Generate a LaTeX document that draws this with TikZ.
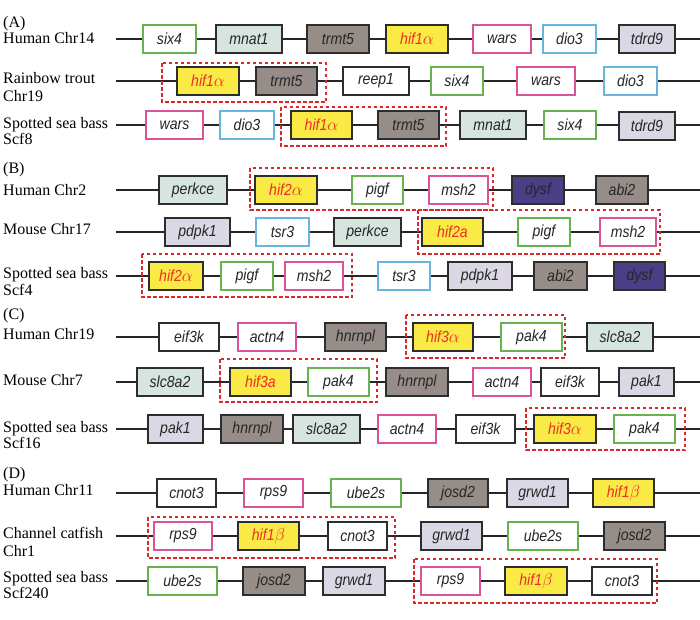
\documentclass[tikz,border=0pt]{standalone}
\usepackage{fontspec}
\setmainfont{Liberation Serif}
\newfontfamily\genefont[FakeStretch=0.88]{Liberation Sans}
\usepackage{tikz}

\definecolor{boxline}{RGB}{45,45,45}
\definecolor{mint}{RGB}{214,229,222}
\definecolor{taupe}{RGB}{150,141,136}
\definecolor{hifyellow}{RGB}{250,234,70}
\definecolor{hifred}{RGB}{238,45,40}
\definecolor{lilac}{RGB}{220,215,228}
\definecolor{indigo}{RGB}{76,62,134}
\definecolor{edgegreen}{RGB}{104,178,80}
\definecolor{edgepink}{RGB}{218,84,150}
\definecolor{edgeblue}{RGB}{104,182,222}
\definecolor{synred}{RGB}{220,40,40}

\tikzset{
  gene/.style={draw=boxline, line width=1.6pt, minimum height=28pt, inner sep=0pt,
    font=\genefont\itshape\fontsize{16}{16}\selectfont, text=black!85},
  plainbox/.style={gene, fill=white},
  mintbox/.style={gene, fill=mint},
  taupebox/.style={gene, fill=taupe},
  hifbox/.style={gene, fill=hifyellow, text=hifred},
  lilacbox/.style={gene, fill=lilac},
  indigobox/.style={gene, fill=indigo},
  greenedge/.style={gene, draw=edgegreen, line width=1.2pt, fill=white},
  pinkedge/.style={gene, draw=edgepink, line width=1.2pt, fill=white},
  blueedge/.style={gene, draw=edgeblue, line width=1.2pt, fill=white},
  chrline/.style={line width=1.2pt, black!85},
  synteny/.style={draw=synred, line width=1.2pt, dash pattern=on 3.5pt off 2.5pt},
  species/.style={anchor=base west, inner sep=0pt, font=\fontsize{16}{16}\selectfont}
}

\begin{document}
\begin{tikzpicture}[x=1pt,y=-1pt]
\useasboundingbox (0,0) rectangle (700,619);

% species / chromosome labels
\node[species] (labA) at (3,27) {(A)};
\node[species] (a1lab) at (3,43.5) {Human Chr14};
\node[species] (a2lab) at (3,83.5) {Rainbow trout};
\node[species] (a2labb) at (3,101) {Chr19};
\node[species] (a3lab) at (3,128) {Spotted sea bass};
\node[species] (a3labb) at (3,144) {Scf8};
\node[species] (labB) at (3,173) {(B)};
\node[species] (b1lab) at (3,195) {Human Chr2};
\node[species] (b2lab) at (3,234) {Mouse Chr17};
\node[species] (b3lab) at (3,278) {Spotted sea bass};
\node[species] (b3labb) at (3,295) {Scf4};
\node[species] (labC) at (3,319) {(C)};
\node[species] (c1lab) at (3,339) {Human Chr19};
\node[species] (c2lab) at (3,385) {Mouse Chr7};
\node[species] (c3lab) at (3,432) {Spotted sea bass};
\node[species] (c3labb) at (3,448) {Scf16};
\node[species] (labD) at (3,478) {(D)};
\node[species] (d1lab) at (3,495) {Human Chr11};
\node[species] (d2lab) at (3,538) {Channel catfish};
\node[species] (d2labb) at (3,556) {Chr1};
\node[species] (d3lab) at (3,582) {Spotted sea bass};
\node[species] (d3labb) at (3,598) {Scf240};

% chromosome lines
\foreach \row/\y in {a1/39,a2/81,a3/125,b1/190,b2/232,b3/276,c1/337,c2/382,c3/429,d1/493,d2/536,d3/581}{
  \coordinate (\row s) at (116,\y);
  \coordinate (\row e) at (700,\y);
  \draw[chrline] (\row s) -- (\row e);
}

% (A) hif1a
\node[greenedge, minimum width=53pt] (a1six) at (169.5,39) {six4};
\node[mintbox, minimum width=66pt] (a1mnat) at (249,39) {mnat1};
\node[taupebox, minimum width=62pt] (a1trmt) at (338,39) {trmt5};
\node[hifbox, minimum width=62pt] (a1hif) at (417,39) {hif1$\alpha$};
\node[pinkedge, minimum width=58pt] (a1wars) at (502,39) {wars};
\node[blueedge, minimum width=53pt] (a1dio) at (569.5,39) {dio3};
\node[lilacbox, minimum width=56pt] (a1tdrd) at (647,39) {tdrd9};

\draw[synteny] (162,63) rectangle (326,102);
\node[hifbox, minimum width=62pt] (a2hif) at (208,81) {hif1$\alpha$};
\node[taupebox, minimum width=61pt] (a2trmt) at (286.5,81) {trmt5};
\node[plainbox, minimum width=66pt] (a2reep) at (376,81) {reep1};
\node[greenedge, minimum width=52pt] (a2six) at (457,81) {six4};
\node[pinkedge, minimum width=58pt] (a2wars) at (546,81) {wars};
\node[blueedge, minimum width=53pt] (a2dio) at (630.5,81) {dio3};

\draw[synteny] (281,107) rectangle (446,146);
\node[pinkedge, minimum width=57pt] (a3wars) at (174.5,125) {wars};
\node[blueedge, minimum width=54pt] (a3dio) at (247,125) {dio3};
\node[hifbox, minimum width=61pt] (a3hif) at (321.5,125) {hif1$\alpha$};
\node[taupebox, minimum width=61pt] (a3trmt) at (408.5,125) {trmt5};
\node[mintbox, minimum width=66pt] (a3mnat) at (493,125) {mnat1};
\node[greenedge, minimum width=52pt] (a3six) at (570,125) {six4};
\node[lilacbox, minimum width=56pt] (a3tdrd) at (647,126) {tdrd9};

% (B) hif2a
\draw[synteny] (250,168) rectangle (493,210);
\node[mintbox, minimum width=68pt] (b1perk) at (193,190) {perkce};
\node[hifbox, minimum width=62pt] (b1hif) at (286,190) {hif2$\alpha$};
\node[greenedge, minimum width=51pt] (b1pigf) at (377.5,190) {pigf};
\node[pinkedge, minimum width=59pt] (b1msh) at (458.5,190) {msh2};
\node[indigobox, minimum width=52pt] (b1dysf) at (538,190) {dysf};
\node[taupebox, minimum width=52pt] (b1abi) at (622,190) {abi2};

\draw[synteny] (418,210) rectangle (660,254);
\node[lilacbox, minimum width=65pt] (b2pdpk) at (197.5,232) {pdpk1};
\node[blueedge, minimum width=53pt] (b2tsr) at (282.5,232) {tsr3};
\node[mintbox, minimum width=67pt] (b2perk) at (367.5,232) {perkce};
\node[hifbox, minimum width=61pt] (b2hif) at (452.5,232) {hif2a};
\node[greenedge, minimum width=52pt] (b2pigf) at (544,232) {pigf};
\node[pinkedge, minimum width=56pt] (b2msh) at (628,232) {msh2};

\draw[synteny] (142,254) rectangle (352,297);
\node[hifbox, minimum width=54pt] (b3hif) at (176,276) {hif2$\alpha$};
\node[greenedge, minimum width=52pt] (b3pigf) at (247,276) {pigf};
\node[pinkedge, minimum width=58pt] (b3msh) at (314,276) {msh2};
\node[blueedge, minimum width=52pt] (b3tsr) at (404,276) {tsr3};
\node[lilacbox, minimum width=64pt] (b3pdpk) at (480,276) {pdpk1};
\node[taupebox, minimum width=53pt] (b3abi) at (560.5,276) {abi2};
\node[indigobox, minimum width=51pt] (b3dysf) at (639.5,276) {dysf};

% (C) hif3a
\draw[synteny] (406,315) rectangle (565,358);
\node[plainbox, minimum width=60pt] (c1eif) at (189,337) {eif3k};
\node[pinkedge, minimum width=58pt] (c1actn) at (267,337) {actn4};
\node[taupebox, minimum width=61pt] (c1hnrn) at (355.5,337) {hnrnpl};
\node[hifbox, minimum width=60pt] (c1hif) at (443,337) {hif3$\alpha$};
\node[greenedge, minimum width=61pt] (c1pak) at (531.5,337) {pak4};
\node[mintbox, minimum width=66pt] (c1slc) at (620,337) {slc8a2};

\draw[synteny] (220,359) rectangle (377,402);
\node[mintbox, minimum width=66pt] (c2slc) at (170,382) {slc8a2};
\node[hifbox, minimum width=61pt] (c2hif) at (260.5,382) {hif3a};
\node[greenedge, minimum width=61pt] (c2pak) at (338.5,382) {pak4};
\node[taupebox, minimum width=62pt] (c2hnrn) at (417,382) {hnrnpl};
\node[pinkedge, minimum width=58pt] (c2actn) at (502,382) {actn4};
\node[plainbox, minimum width=58pt] (c2eif) at (570,382) {eif3k};
\node[lilacbox, minimum width=55pt] (c2pakone) at (646.5,382) {pak1};

\draw[synteny] (526,408) rectangle (685,450);
\node[lilacbox, minimum width=55pt] (c3pakone) at (175.5,429) {pak1};
\node[taupebox, minimum width=62pt] (c3hnrn) at (252,429) {hnrnpl};
\node[mintbox, minimum width=67pt] (c3slc) at (326.5,429) {slc8a2};
\node[pinkedge, minimum width=58pt] (c3actn) at (407,429) {actn4};
\node[plainbox, minimum width=59pt] (c3eif) at (485.5,429) {eif3k};
\node[hifbox, minimum width=62pt] (c3hif) at (565,429) {hif3$\alpha$};
\node[greenedge, minimum width=61pt] (c3pak) at (644.5,429) {pak4};

% (D) hif1b
\node[plainbox, minimum width=59pt] (d1cnot) at (186.5,493) {cnot3};
\node[pinkedge, minimum width=59pt] (d1rps) at (273.5,493) {rps9};
\node[greenedge, minimum width=70pt] (d1ube) at (366,493) {ube2s};
\node[taupebox, minimum width=60pt] (d1josd) at (458,493) {josd2};
\node[lilacbox, minimum width=61pt] (d1grwd) at (537.5,493) {grwd1};
\node[hifbox, minimum width=61pt] (d1hif) at (623.5,493) {hif1$\beta$};

\draw[synteny] (148,517) rectangle (395,558);
\node[pinkedge, minimum width=58pt] (d2rps) at (183,536) {rps9};
\node[hifbox, minimum width=61pt] (d2hif) at (268.5,536) {hif1$\beta$};
\node[plainbox, minimum width=59pt] (d2cnot) at (357.5,536) {cnot3};
\node[lilacbox, minimum width=61pt] (d2grwd) at (451.5,536) {grwd1};
\node[greenedge, minimum width=70pt] (d2ube) at (543,536) {ube2s};
\node[taupebox, minimum width=61pt] (d2josd) at (634.5,536) {josd2};

\draw[synteny] (414,559) rectangle (657,603);
\node[greenedge, minimum width=69pt] (d3ube) at (182.5,581) {ube2s};
\node[taupebox, minimum width=62pt] (d3josd) at (274,581) {josd2};
\node[lilacbox, minimum width=62pt] (d3grwd) at (354,581) {grwd1};
\node[pinkedge, minimum width=59pt] (d3rps) at (450.5,581) {rps9};
\node[hifbox, minimum width=62pt] (d3hif) at (536,581) {hif1$\beta$};
\node[plainbox, minimum width=60pt] (d3cnot) at (622,581) {cnot3};

\end{tikzpicture}
\end{document}
